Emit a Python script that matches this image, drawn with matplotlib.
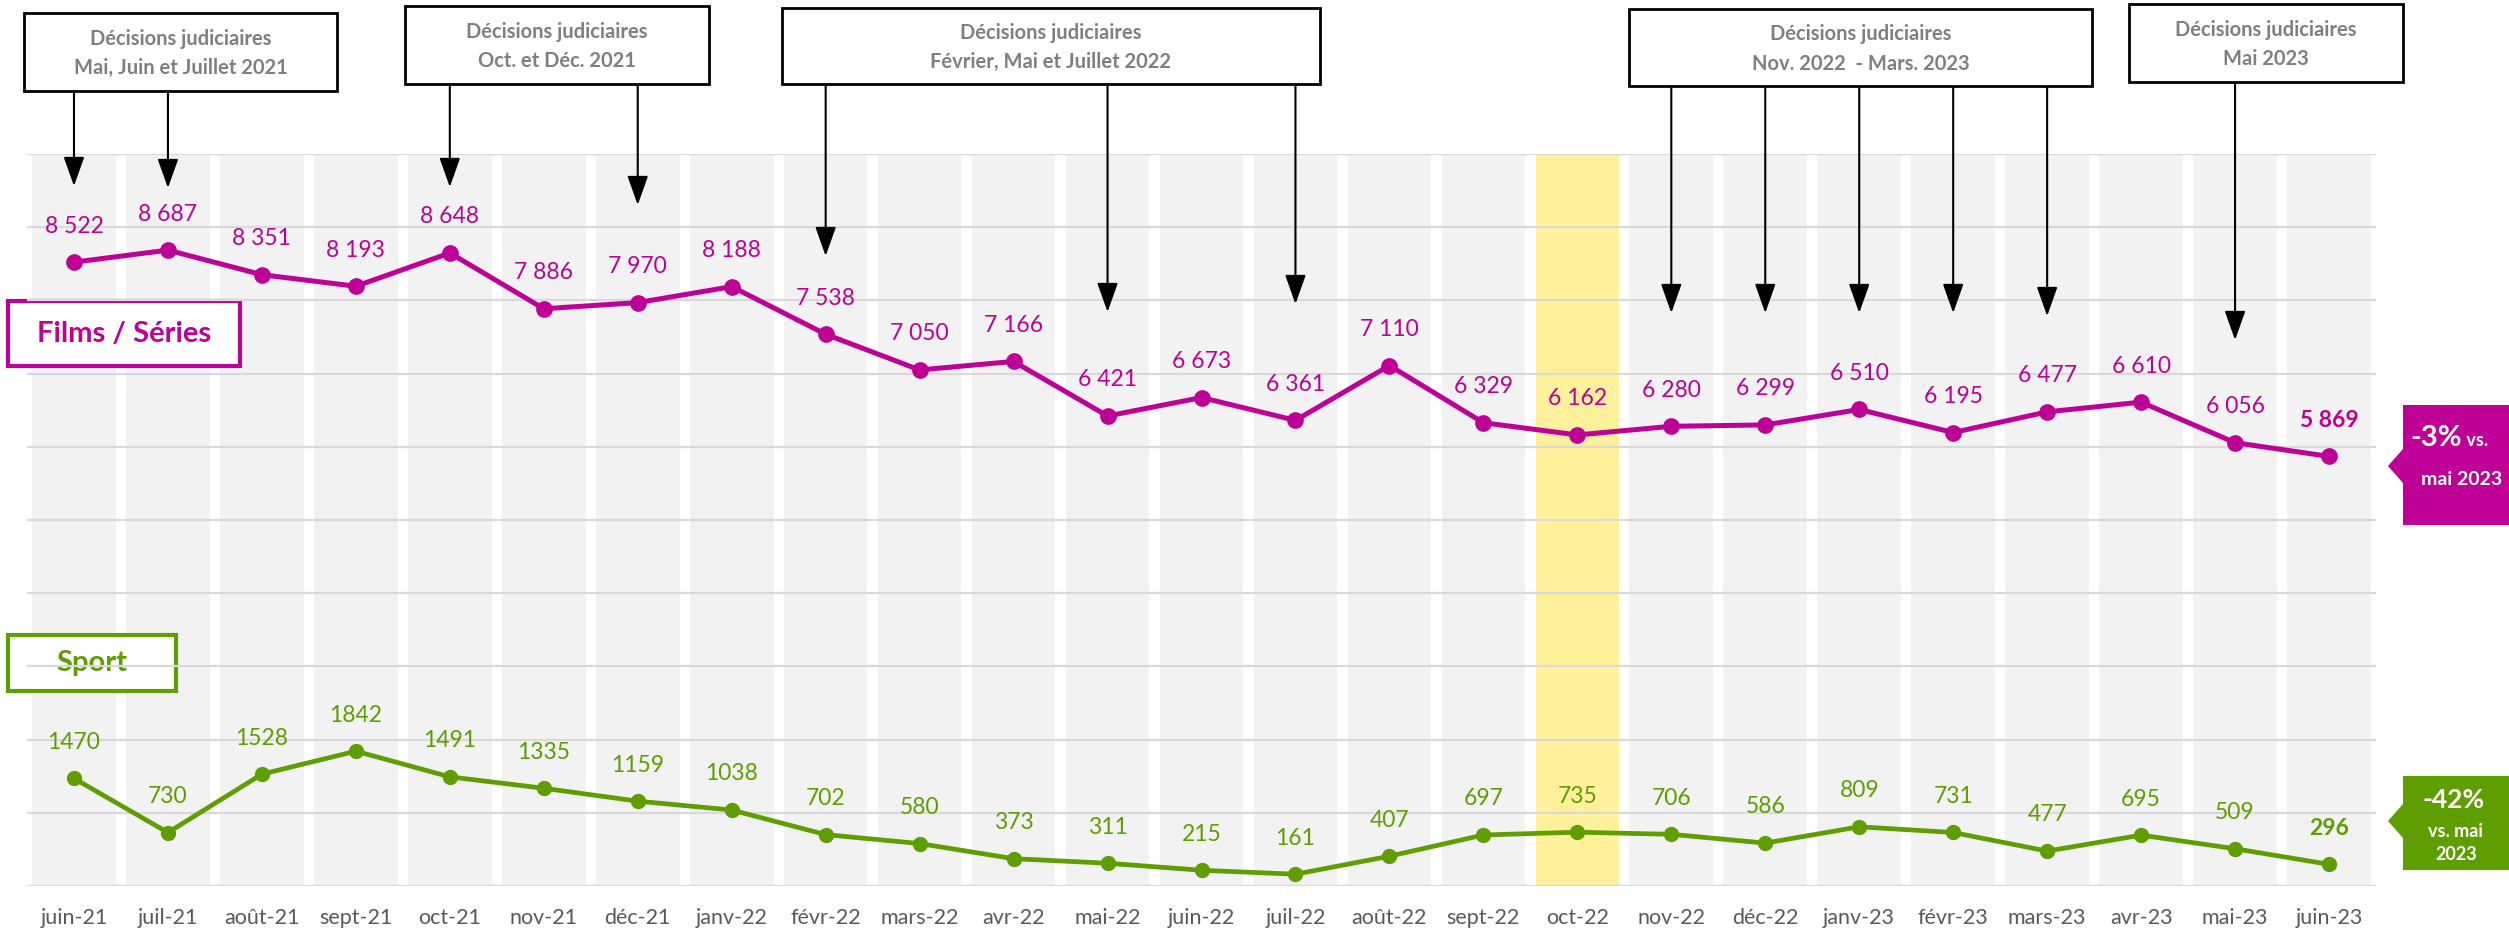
import matplotlib.pyplot as plt
from matplotlib.patches import Rectangle, Polygon

plt.rcParams['font.family'] = ['Lato', 'DejaVu Sans']

# données
mois = ['juin-21', 'juil-21', 'août-21', 'sept-21', 'oct-21', 'nov-21', 'déc-21', 'janv-22',
        'févr-22', 'mars-22', 'avr-22', 'mai-22', 'juin-22', 'juil-22', 'août-22', 'sept-22',
        'oct-22', 'nov-22', 'déc-22', 'janv-23', 'févr-23', 'mars-23', 'avr-23', 'mai-23', 'juin-23']
films = [8522, 8687, 8351, 8193, 8648, 7886, 7970, 8188, 7538, 7050, 7166, 6421, 6673,
         6361, 7110, 6329, 6162, 6280, 6299, 6510, 6195, 6477, 6610, 6056, 5869]
sport = [1470, 730, 1528, 1842, 1491, 1335, 1159, 1038, 702, 580, 373, 311, 215,
         161, 407, 697, 735, 706, 586, 809, 731, 477, 695, 509, 296]
mois_surligne = 'oct-22'

# encadrés "Décisions judiciaires" et mois visés par les flèches
titre_decision = 'Décisions judiciaires'
decisions = ['Mai, Juin et Juillet 2021', 'Oct. et Déc. 2021', 'Février, Mai et Juillet 2022',
             'Nov. 2022  - Mars. 2023', 'Mai 2023']
mois_decisions = [['juin-21', 'juil-21'], ['oct-21', 'déc-21'], ['févr-22', 'mai-22', 'juil-22'],
                  ['nov-22', 'déc-22', 'janv-23', 'févr-23', 'mars-23'], ['mai-23']]
evol_films = ['-3%', ' vs.', 'mai 2023']
evol_sport = ['-42%', 'vs. mai', '2023']

# mise en page (pixels, origine en haut à gauche)
W, H = 2509, 930
boites = [(24, 13, 337, 91), (405, 6, 709, 84), (782, 8, 1320, 84), (1629, 9, 2092, 86), (2129, 4, 2403, 82)]
pointes = {'juin-21': 186, 'juil-21': 188, 'oct-21': 187, 'déc-21': 205, 'févr-22': 256, 'mai-22': 312,
           'juil-22': 304, 'nov-22': 313, 'déc-22': 313, 'janv-23': 313, 'févr-23': 313, 'mars-23': 316,
           'mai-23': 340}

MAG = '#BE0096'
VERT = '#5E9E00'
GRIS = '#7F7F7F'


def fx(x):
    return x / W


def fy(y):
    return (H - y) / H


fig = plt.figure(figsize=(W / 100, H / 100), dpi=100)
ax = fig.add_axes([fx(27), fy(886), fx(2376) - fx(27), fy(154) - fy(886)])
ax.set_xlim(-0.5, len(mois) - 0.5)
ax.set_ylim(0, 10000)
x = list(range(len(mois)))

# colonnes de fond
couleurs = ['#FFF19B' if m == mois_surligne else '#F2F2F2' for m in mois]
ax.bar(x, [ax.get_ylim()[1]] * len(mois), width=0.89, color=couleurs, zorder=0.5)

ax.set_yticks(range(0, 10001, 1000))
ax.grid(axis='y', color='#D9D9D9', lw=1.6)
ax.set_axisbelow(False)
ax.tick_params(axis='y', length=0, labelleft=False)
ax.set_xticks(x, mois)
ax.tick_params(axis='x', length=0, pad=16, labelsize=15.5, labelcolor='#595959')
for s in ax.spines.values():
    s.set_visible(False)
ax.patch.set_visible(False)

# courbes
ax.plot(x, films, color=MAG, lw=3.6, marker='o', ms=11, zorder=4)
ax.plot(x, sport, color=VERT, lw=3.4, marker='o', ms=10, zorder=4)

for i in x:
    last = i == len(mois) - 1
    ax.annotate(f'{films[i]:,}'.replace(',', ' '), (i, films[i]), xytext=(0, 26),
                textcoords='offset points', ha='center', va='center', fontsize=16.5,
                color=MAG, fontweight='bold' if last else 'normal', zorder=5)
    ax.annotate(str(sport[i]), (i, sport[i]), xytext=(0, 26),
                textcoords='offset points', ha='center', va='center', fontsize=16.5,
                color=VERT, fontweight='bold' if last else 'normal', zorder=5)

# légendes encadrées
for (x0, y0, x1, y1), txt, col in [((8, 301, 240, 366), 'Films / Séries', MAG),
                                     ((8, 635, 176, 691), 'Sport', VERT)]:
    ax.add_patch(Rectangle((fx(x0), fy(y1)), fx(x1) - fx(x0), fy(y0) - fy(y1), transform=fig.transFigure,
                           facecolor='white', edgecolor=col, lw=3, clip_on=False, zorder=1))
    ax.text(fx((x0 + x1) / 2), fy((y0 + y1) / 2), txt, transform=fig.transFigure, ha='center',
            va='center', fontsize=21, fontweight='bold', color=col, zorder=1.1, clip_on=False)

# encadrés des décisions + flèches
for (x0, y0, x1, y1), txt, cibles in zip(boites, decisions, mois_decisions):
    fig.patches.append(Rectangle((fx(x0), fy(y1)), fx(x1) - fx(x0), fy(y0) - fy(y1),
                                 transform=fig.transFigure, facecolor='white', edgecolor='black', lw=2))
    h = y1 - y0
    fig.text(fx((x0 + x1) / 2), fy(y0 + 0.33 * h), titre_decision, ha='center', va='center',
             fontsize=14.5, fontweight='bold', color=GRIS)
    fig.text(fx((x0 + x1) / 2), fy(y0 + 0.71 * h), txt, ha='center', va='center',
             fontsize=14.5, fontweight='bold', color=GRIS)
    for m in cibles:
        ax.annotate('', xy=(mois.index(m), H - pointes[m]), xytext=(mois.index(m), H - y1 - 1),
                    xycoords=('data', 'figure pixels'), textcoords=('data', 'figure pixels'),
                    arrowprops=dict(arrowstyle='-|>,head_length=0.9,head_width=0.32', color='black',
                                    lw=1.5, shrinkA=0, shrinkB=0, mutation_scale=20),
                    annotation_clip=False, zorder=6)

# pastilles d'évolution à droite
for (y0, y1, yt), col in [((405, 525, 466), MAG), ((776, 870, 821), VERT)]:
    pts = [(2403, y0), (2509, y0), (2509, y1), (2403, y1), (2403, yt + 17), (2388, yt), (2403, yt - 17)]
    fig.patches.append(Polygon([(fx(a), fy(b)) for a, b in pts], closed=True,
                               transform=fig.transFigure, facecolor=col, edgecolor='none'))

blanc = dict(fontweight='bold', color='white')
fig.text(fx(2462), fy(446), evol_films[0], ha='right', va='baseline', fontsize=21, **blanc)
fig.text(fx(2462), fy(446), evol_films[1], ha='left', va='baseline', fontsize=13, **blanc)
fig.text(fx(2462), fy(479), evol_films[2], ha='center', va='center', fontsize=14, **blanc)

fig.text(fx(2454), fy(800), evol_sport[0], ha='center', va='center', fontsize=19, **blanc)
fig.text(fx(2456), fy(831), evol_sport[1], ha='center', va='center', fontsize=13, **blanc)
fig.text(fx(2456), fy(854), evol_sport[2], ha='center', va='center', fontsize=13, **blanc)

fig.savefig('out.png', dpi=100)
